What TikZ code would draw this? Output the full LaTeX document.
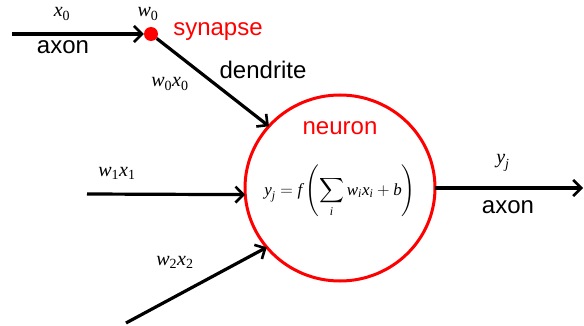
\documentclass[tikz,border=0pt]{standalone}
\usepackage{amsmath}
\usepackage{fontspec}
\setmainfont{Liberation Serif}
\newfontfamily\arialf{Liberation Sans}
\usetikzlibrary{arrows.meta,shapes.geometric}
\newcommand\iv[1]{\text{\itshape #1}}
\newcommand\rv[1]{\text{\upshape #1}}
\tikzset{
  wire/.style={line width=3.2pt, -{Straight Barb[length=8pt,width=16pt,line width=2.6pt]}},
  sanslabel/.style={font=\arialf\fontsize{24}{28}\selectfont, inner sep=0pt},
  mathlabel/.style={font=\fontsize{20}{24}\selectfont, inner sep=0pt},
}
\begin{document}
\begin{tikzpicture}[x=1pt,y=-1pt]
\useasboundingbox (0,0) rectangle (584,326);
% neuron body
\node[ellipse, draw=red, line width=3pt, minimum width=190pt, minimum height=186pt, inner sep=0pt, outer sep=0pt] (n) at (340,188) {};
\node[circle, fill=red, minimum size=14pt, inner sep=0pt] (syn) at (151,34) {};
% free ends
\coordinate (ain) at (12,34);
\coordinate (in1) at (87,194);
\coordinate (in2) at (126,323);
\coordinate (out) at (583,188);
% connectors
\draw[wire] (ain) -- (syn);
\draw[wire] (syn) -- (n.139);
\draw[wire] (in1) -- (n.184);
\draw[wire] (in2) -- (n.219);
\draw[wire] (n.east) -- (out);
% labels
\node[mathlabel] (lx0) at (62,14) {$\iv{x}_{\rv{0}}$};
\node[mathlabel] (lw0) at (148,14) {$\iv{w}_{\rv{0}}$};
\node[sanslabel] (laxon1) at (63,47) {axon};
\node[sanslabel, text=red] (lsyn) at (218,32) {synapse};
\node[sanslabel] (ldend) at (263,70) {dendrite};
\node[mathlabel] (lw0x0) at (170,84) {$\iv{w}_{\rv{0}}\iv{x}_{\rv{0}}$};
\node[sanslabel, text=red] (lneu) at (340,128) {neuron};
\node[mathlabel] (lw1x1) at (117,173) {$\iv{w}_{\rv{1}}\iv{x}_{\rv{1}}$};
\node[mathlabel] (lw2x2) at (175,262) {$\iv{w}_{\rv{2}}\iv{x}_{\rv{2}}$};
\node[mathlabel] (lyj) at (503,163) {$\iv{y}_{\iv{j}}$};
\node[sanslabel] (laxon2) at (508,207) {axon};
\node[font=\fontsize{17}{21}\selectfont, inner sep=0pt] (form) at (340,191) {$\displaystyle \iv{y}_{\iv{j}} = \iv{f}\left(\sum_{\iv{i}} \iv{w}_{\iv{i}}\iv{x}_{\iv{i}} + \iv{b}\right)$};
\end{tikzpicture}
\end{document}
